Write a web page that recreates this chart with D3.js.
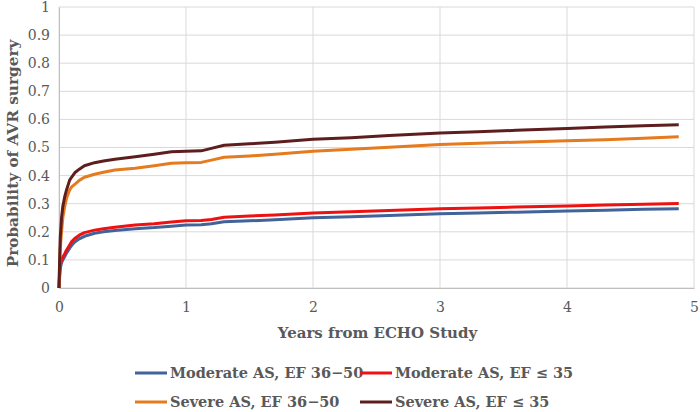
<!DOCTYPE html>
<html>
<head>
<meta charset="utf-8">
<script src="https://cdn.jsdelivr.net/npm/d3@7"></script>
<style>
  body { margin: 0; background: #fff; }
  svg text { font-family: "DejaVu Serif", "Liberation Serif", serif; fill: #595959; }
</style>
</head>
<body>
<svg id="chart" width="700" height="412"></svg>
<script>
// time points (years) and probability of AVR surgery
var times = [0, 0.005, 0.01, 0.02, 0.03, 0.045, 0.06, 0.084, 0.1, 0.124, 0.16, 0.2, 0.28, 0.35, 0.44, 0.6, 0.75, 0.885, 1.0, 1.12, 1.2, 1.3, 1.5, 1.7, 2.0, 2.3, 2.6, 3.0, 3.3, 3.6, 4.0, 4.3, 4.6, 4.88];

var modMid  = [0, 0.04, 0.07, 0.09, 0.10, 0.112, 0.125, 0.142, 0.152, 0.164, 0.175, 0.184, 0.195, 0.200, 0.205, 0.211, 0.215, 0.220, 0.224, 0.225, 0.229, 0.236, 0.239, 0.243, 0.250, 0.254, 0.258, 0.264, 0.267, 0.270, 0.274, 0.277, 0.280, 0.282];
var modLow  = [0, 0.05, 0.08, 0.10, 0.11, 0.122, 0.135, 0.153, 0.165, 0.176, 0.188, 0.197, 0.206, 0.211, 0.216, 0.224, 0.229, 0.235, 0.239, 0.240, 0.244, 0.252, 0.256, 0.260, 0.267, 0.271, 0.276, 0.282, 0.285, 0.288, 0.292, 0.295, 0.298, 0.301];
var sevMid  = [0, 0.08, 0.14, 0.20, 0.25, 0.29, 0.32, 0.349, 0.36, 0.369, 0.383, 0.394, 0.405, 0.412, 0.420, 0.426, 0.435, 0.444, 0.446, 0.447, 0.455, 0.465, 0.470, 0.476, 0.487, 0.494, 0.501, 0.511, 0.515, 0.519, 0.524, 0.528, 0.533, 0.538];
var sevLow  = [0, 0.10, 0.18, 0.25, 0.29, 0.325, 0.35, 0.384, 0.395, 0.41, 0.423, 0.435, 0.446, 0.452, 0.458, 0.467, 0.476, 0.485, 0.487, 0.488, 0.497, 0.508, 0.513, 0.519, 0.529, 0.535, 0.543, 0.552, 0.556, 0.561, 0.568, 0.573, 0.577, 0.581];

var seriesNames = ["Moderate AS, EF 36\u221250", "Moderate AS, EF \u2264 35", "Severe AS, EF 36\u221250", "Severe AS, EF \u2264 35"];
var seriesColors = ["#41639a", "#ee1111", "#e57a1e", "#5e1e1e"];
var seriesValues = [modMid, modLow, sevMid, sevLow];

var xTicks = [0, 1, 2, 3, 4, 5];
var yTicks = [0, 0.1, 0.2, 0.3, 0.4, 0.5, 0.6, 0.7, 0.8, 0.9, 1];

var svg = d3.select('#chart');
var margin = {left: 59, right: 6, top: 7, bottom: 124};
var width = 700 - margin.left - margin.right,
    height = 412 - margin.top - margin.bottom;

var x = d3.scaleLinear().domain([0, 5]).range([0, width]);
var y = d3.scaleLinear().domain([0, 1]).range([height, 0]);

var g = svg.append('g').attr('transform', 'translate(' + margin.left + ',' + margin.top + ')');

// gridlines
g.selectAll('.hgrid').data(yTicks).enter().append('line')
    .attr('x1', 0).attr('x2', width)
    .attr('y1', function (d) { return y(d); }).attr('y2', function (d) { return y(d); })
    .attr('stroke', '#d9d9d9').attr('stroke-width', 1);
g.selectAll('.vgrid').data(xTicks).enter().append('line')
    .attr('x1', function (d) { return x(d); }).attr('x2', function (d) { return x(d); })
    .attr('y1', 0).attr('y2', height)
    .attr('stroke', '#d9d9d9').attr('stroke-width', 1);

// axes
var xAxis = g.append('g').attr('transform', 'translate(0,' + height + ')')
    .call(d3.axisBottom(x).tickValues(xTicks).tickSize(0).tickPadding(14).tickFormat(d3.format('d')));
var yAxis = g.append('g')
    .call(d3.axisLeft(y).tickValues(yTicks).tickSize(0).tickPadding(9).tickFormat(function (d) { return d === 0 ? '0' : d === 1 ? '1' : d3.format('.1f')(d); }));
[xAxis, yAxis].forEach(function (a) {
    a.select('.domain').attr('stroke', '#bfbfbf');
    a.selectAll('text').attr('font-size', 14).attr('fill', '#595959')
        .style('font-family', '"DejaVu Serif", serif');
});

// lines
var line = d3.line()
    .x(function (d, i) { return x(times[i]); })
    .y(function (d) { return y(d); });

seriesValues.forEach(function (vals, i) {
    g.append('path')
        .datum(vals)
        .attr('fill', 'none')
        .attr('stroke', seriesColors[i])
        .attr('stroke-width', 3)
        .attr('stroke-linejoin', 'round')
        .attr('d', line);
});

// axis titles
svg.append('text')
    .attr('x', margin.left + width / 2 + 1).attr('y', 338)
    .attr('text-anchor', 'middle')
    .attr('font-size', 15).attr('font-weight', 'bold')
    .text('Years from ECHO Study');

svg.append('text')
    .attr('transform', 'translate(18,' + (margin.top + height / 2 + 6) + ') rotate(-90)')
    .attr('text-anchor', 'middle')
    .attr('font-size', 15.3).attr('font-weight', 'bold')
    .text('Probability of AVR surgery');

// legend
var legendPos = [[135, 373], [360, 373], [135, 402], [360, 402]];
seriesNames.forEach(function (name, i) {
    var lg = svg.append('g').attr('transform', 'translate(' + legendPos[i][0] + ',' + legendPos[i][1] + ')');
    lg.append('line').attr('x1', 0).attr('x2', 32).attr('y1', 0).attr('y2', 0)
        .attr('stroke', seriesColors[i]).attr('stroke-width', 3);
    lg.append('text').attr('x', 35).attr('y', 5)
        .attr('font-size', 14.5).attr('font-weight', 'bold')
        .text(name);
});
</script>
</body>
</html>
